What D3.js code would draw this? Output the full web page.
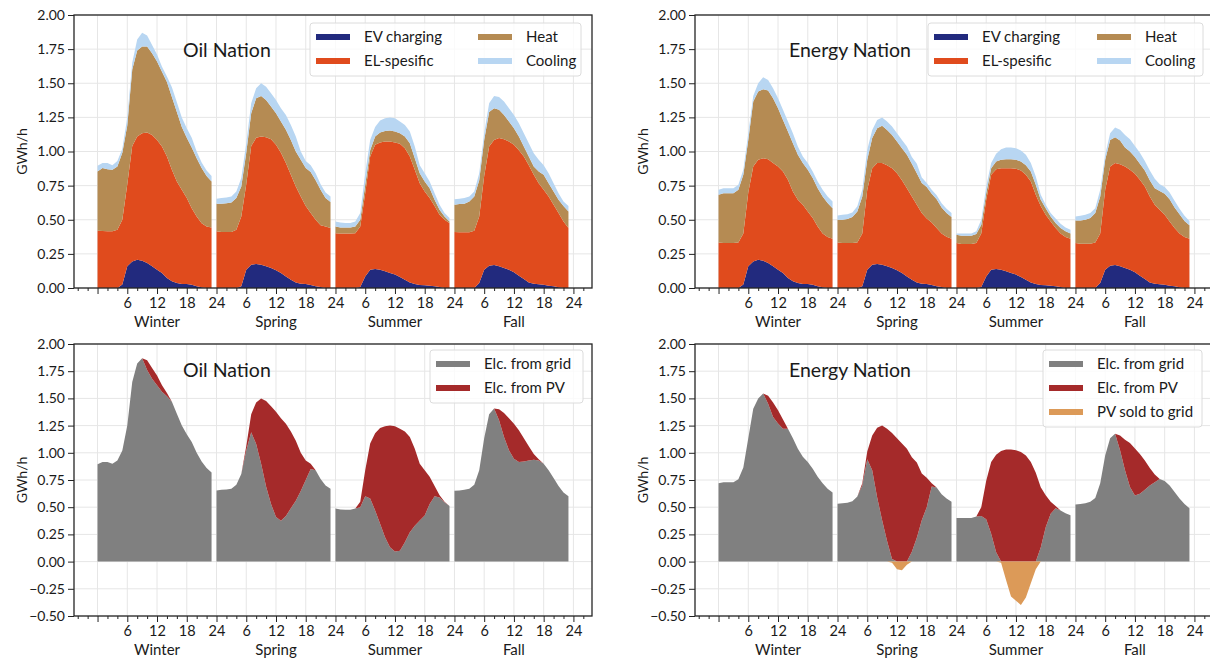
<!DOCTYPE html>
<html><head><meta charset="utf-8">
<script src="https://cdn.jsdelivr.net/npm/d3@7"></script>
<style>
body{margin:0;background:#fff}
svg{display:block}
text{font-family:Lato,'Open Sans','DejaVu Sans',sans-serif;fill:#1a1a1a}
</style>
</head><body>
<svg id="c" width="1210" height="660"></svg>
<script>
// ---------------- data (hourly, 4 seasons x 24 h) ----------------
const seasons = ["Winter", "Spring", "Summer", "Fall"];
const hourLabels = ["6", "12", "18", "24"];
const yTicksTop = [0, 0.25, 0.5, 0.75, 1, 1.25, 1.5, 1.75, 2];
const yTicksBottom = [-0.5, -0.25, 0, 0.25, 0.5, 0.75, 1, 1.25, 1.5, 1.75, 2];

const evCharging = [
  0,0,0,0,0,0.025,0.16,0.195,0.207,0.20,0.183,0.16,0.134,0.11,0.073,0.05,0.037,0.03,0.029,0.024,0.012,0.005,0,0,
  0,0,0,0,0,0.012,0.134,0.17,0.176,0.17,0.159,0.146,0.13,0.11,0.085,0.06,0.04,0.032,0.03,0.022,0.012,0.007,0,0,
  0,0,0,0,0,0.007,0.085,0.134,0.139,0.134,0.122,0.11,0.098,0.08,0.06,0.04,0.03,0.022,0.02,0.017,0.012,0.007,0,0,
  0,0,0,0,0,0.037,0.134,0.163,0.168,0.159,0.146,0.134,0.115,0.09,0.066,0.04,0.032,0.027,0.024,0.017,0.012,0.005,0,0
];

// Oil Nation
const oilElSpecific = [
  0.42,0.418,0.415,0.415,0.427,0.475,0.60,0.845,0.903,0.934,0.957,0.96,0.951,0.927,0.89,0.816,0.743,0.69,0.631,0.561,0.512,0.47,0.45,0.444,
  0.415,0.41,0.41,0.41,0.427,0.512,0.626,0.87,0.924,0.94,0.946,0.944,0.92,0.88,0.83,0.77,0.704,0.638,0.57,0.528,0.488,0.453,0.45,0.44,
  0.402,0.40,0.40,0.40,0.402,0.443,0.61,0.829,0.911,0.932,0.951,0.963,0.968,0.976,0.964,0.923,0.836,0.746,0.687,0.643,0.588,0.53,0.50,0.476,
  0.41,0.408,0.408,0.408,0.42,0.487,0.686,0.874,0.917,0.939,0.944,0.939,0.935,0.92,0.897,0.86,0.798,0.741,0.696,0.653,0.598,0.545,0.488,0.44
];
const oilHeat = [
  0.434,0.462,0.455,0.451,0.463,0.49,0.43,0.56,0.63,0.636,0.63,0.60,0.575,0.548,0.547,0.534,0.51,0.46,0.44,0.445,0.426,0.405,0.37,0.336,
  0.202,0.207,0.21,0.217,0.233,0.22,0.23,0.24,0.29,0.297,0.273,0.24,0.23,0.23,0.245,0.255,0.256,0.27,0.28,0.30,0.29,0.26,0.21,0.19,
  0.048,0.044,0.044,0.044,0.048,0.05,0.061,0.047,0.06,0.074,0.077,0.08,0.08,0.078,0.086,0.097,0.084,0.072,0.073,0.07,0.046,0.036,0.024,0.012,
  0.20,0.207,0.209,0.226,0.25,0.266,0.265,0.253,0.232,0.207,0.178,0.147,0.12,0.10,0.074,0.063,0.06,0.086,0.11,0.098,0.097,0.096,0.112,0.12
];
const oilCooling = [
  0.041,0.035,0.045,0.034,0.04,0.03,0.06,0.05,0.08,0.10,0.08,0.06,0.05,0.035,0.04,0.07,0.07,0.07,0.07,0.07,0.05,0.04,0.04,0.04,
  0.037,0.043,0.043,0.043,0.047,0.061,0.07,0.074,0.073,0.093,0.097,0.097,0.098,0.097,0.108,0.11,0.11,0.06,0.05,0.05,0.05,0.04,0.04,0.04,
  0.038,0.036,0.032,0.032,0.038,0.05,0.084,0.075,0.07,0.087,0.094,0.097,0.098,0.086,0.085,0.086,0.087,0.06,0.06,0.05,0.049,0.037,0.026,0.024,
  0.041,0.039,0.043,0.036,0.037,0.05,0.049,0.064,0.09,0.095,0.098,0.097,0.098,0.097,0.097,0.097,0.098,0.086,0.07,0.072,0.061,0.049,0.034,0.04
];
const oilGrid = [
  0.895,0.915,0.915,0.90,0.93,1.02,1.25,1.65,1.82,1.87,1.76,1.68,1.62,1.56,1.52,1.47,1.36,1.25,1.17,1.10,1.00,0.92,0.86,0.82,
  0.654,0.66,0.663,0.67,0.707,0.805,1.02,1.19,1.08,0.90,0.69,0.53,0.41,0.375,0.42,0.49,0.56,0.65,0.75,0.85,0.84,0.76,0.70,0.67,
  0.488,0.48,0.476,0.476,0.488,0.50,0.60,0.58,0.47,0.347,0.224,0.132,0.092,0.10,0.178,0.27,0.33,0.377,0.423,0.53,0.60,0.59,0.546,0.512,
  0.651,0.654,0.66,0.67,0.707,0.84,1.134,1.354,1.407,1.30,1.146,1.023,0.946,0.915,0.92,0.93,0.937,0.93,0.90,0.84,0.768,0.695,0.634,0.60
];
const oilPV = [
  0,0,0,0,0,0,0,0,0,0,0.09,0.10,0.09,0.06,0.03,0,0,0,0,0,0,0,0,0,
  0,0,0,0,0,0,0.04,0.164,0.383,0.60,0.785,0.897,0.968,0.942,0.848,0.705,0.55,0.35,0.18,0.05,0,0,0,0,
  0,0,0,0,0,0.05,0.24,0.505,0.71,0.88,1.02,1.118,1.152,1.12,1.017,0.876,0.707,0.523,0.417,0.25,0.095,0.02,0.004,0,
  0,0,0,0,0,0,0,0,0,0.10,0.22,0.294,0.322,0.292,0.214,0.13,0.051,0.01,0,0,0,0,0,0
];

// Energy Nation
const enElSpecific = [
  0.334,0.33,0.33,0.33,0.334,0.375,0.54,0.695,0.733,0.75,0.761,0.755,0.756,0.744,0.72,0.657,0.609,0.58,0.531,0.488,0.438,0.395,0.373,0.36,
  0.334,0.33,0.33,0.33,0.334,0.388,0.586,0.708,0.739,0.745,0.741,0.732,0.71,0.68,0.645,0.61,0.57,0.518,0.48,0.458,0.428,0.393,0.375,0.36,
  0.33,0.322,0.322,0.322,0.33,0.393,0.561,0.696,0.731,0.744,0.756,0.768,0.775,0.781,0.77,0.74,0.653,0.578,0.517,0.471,0.428,0.393,0.373,0.36,
  0.33,0.324,0.324,0.324,0.334,0.363,0.586,0.727,0.747,0.748,0.744,0.732,0.722,0.703,0.678,0.63,0.578,0.546,0.513,0.471,0.428,0.395,0.373,0.36
];
const enHeat = [
  0.349,0.365,0.365,0.365,0.386,0.43,0.385,0.476,0.50,0.506,0.502,0.475,0.427,0.376,0.353,0.353,0.33,0.305,0.306,0.293,0.28,0.27,0.249,0.225,
  0.166,0.17,0.175,0.19,0.226,0.27,0.22,0.22,0.255,0.273,0.258,0.242,0.233,0.234,0.246,0.24,0.23,0.22,0.23,0.21,0.21,0.19,0.175,0.16,
  0.06,0.061,0.061,0.061,0.065,0.063,0.049,0.048,0.057,0.062,0.066,0.066,0.067,0.066,0.07,0.074,0.073,0.046,0.048,0.036,0.036,0.04,0.042,0.04,
  0.165,0.171,0.176,0.188,0.216,0.27,0.22,0.195,0.19,0.173,0.14,0.134,0.123,0.117,0.116,0.12,0.12,0.137,0.153,0.162,0.15,0.14,0.117,0.10
];
const enCooling = [
  0.037,0.035,0.035,0.035,0.036,0.036,0.049,0.04,0.06,0.088,0.078,0.073,0.073,0.075,0.074,0.074,0.061,0.048,0.049,0.049,0.05,0.05,0.048,0.049,
  0.032,0.037,0.036,0.034,0.038,0.05,0.072,0.06,0.06,0.062,0.062,0.063,0.061,0.061,0.061,0.05,0.07,0.04,0.03,0.03,0.03,0.03,0.03,0.03,
  0.01,0.017,0.017,0.017,0.02,0.037,0.049,0.037,0.056,0.077,0.086,0.086,0.084,0.08,0.076,0.061,0.061,0.037,0.025,0.026,0.034,0.03,0.029,0.027,
  0.029,0.035,0.037,0.038,0.035,0.05,0.036,0.049,0.071,0.08,0.09,0.09,0.08,0.08,0.07,0.07,0.07,0.05,0.05,0.05,0.05,0.04,0.04,0.03
];
const enGrid = [
  0.72,0.73,0.73,0.73,0.756,0.866,1.134,1.406,1.50,1.544,1.45,1.33,1.27,1.22,1.22,1.134,1.037,0.963,0.915,0.854,0.78,0.72,0.67,0.634,
  0.532,0.537,0.541,0.554,0.598,0.70,0.94,0.84,0.59,0.38,0.19,0.025,0,0,0,0.09,0.22,0.38,0.50,0.69,0.68,0.62,0.58,0.55,
  0.40,0.40,0.40,0.40,0.415,0.42,0.39,0.255,0.086,0,0,0,0,0,0,0,0,0.13,0.316,0.44,0.49,0.47,0.444,0.427,
  0.524,0.53,0.537,0.55,0.585,0.72,0.976,1.134,1.176,1.023,0.84,0.685,0.608,0.624,0.66,0.70,0.73,0.76,0.74,0.70,0.64,0.58,0.53,0.49
];
const enPV = [
  0,0,0,0,0,0,0,0,0,0,0.074,0.133,0.12,0.085,0,0,0,0,0,0,0,0,0,0,
  0,0,0,0,0,0.02,0.072,0.318,0.64,0.87,1.03,1.158,1.134,1.085,1.037,0.87,0.69,0.43,0.27,0.03,0,0,0,0,
  0,0,0,0,0,0.08,0.354,0.66,0.897,1.017,1.03,1.03,1.024,1.007,0.976,0.915,0.817,0.553,0.294,0.11,0.02,0,0,0,
  0,0,0,0,0,0,0,0,0,0.137,0.28,0.405,0.432,0.366,0.27,0.16,0.07,0,0,0,0,0,0,0
];
const enSold = [
  0,0,0,0,0,0,0,0,0,0,0,0,0,0,0,0,0,0,0,0,0,0,0,0,
  0,0,0,0,0,0,0,0,0,0,0,-0.01,-0.07,-0.08,-0.03,0,0,0,0,0,0,0,0,0,
  0,0,0,0,0,0,0,0,0,-0.01,-0.17,-0.32,-0.36,-0.40,-0.33,-0.20,-0.07,0,0,0,0,0,0,0,
  0,0,0,0,0,0,0,0,0,0,0,0,0,0,0,0,0,0,0,0,0,0,0,0
];

const demandKeys = ["EV charging", "EL-spesific", "Heat", "Cooling"];
const supplyKeys = ["Elc. from grid", "Elc. from PV", "PV sold to grid"];
const colors = {
  "EV charging": "#222a7e", "EL-spesific": "#e04b1d", "Heat": "#b58b53", "Cooling": "#b8d6f2",
  "Elc. from grid": "#808080", "Elc. from PV": "#a52a2a", "PV sold to grid": "#dc9a58"
};

// ---------------- drawing ----------------
const svg = d3.select("#c");
const W = 518;

function frame(p) {
  const x = d3.scaleLinear().domain([-4.75, 99.75]).range([p.left, p.left + W]);
  const y = d3.scaleLinear().domain(p.yDomain).range([p.top + p.height, p.top]);
  const g = svg.append("g");
  g.append("g").selectAll("line").data(p.yTicks).join("line")
    .attr("x1", p.left).attr("x2", p.left + W).attr("y1", d => y(d)).attr("y2", d => y(d))
    .attr("stroke", "#e6e6e6").attr("stroke-width", 1);
  g.append("g").selectAll("line").data(d3.range(0, 97, 6)).join("line")
    .attr("x1", d => x(d)).attr("x2", d => x(d)).attr("y1", p.top).attr("y2", p.top + p.height)
    .attr("stroke", "#e6e6e6").attr("stroke-width", 1);
  return {x, y, g};
}

function axes(p, x, y) {
  const g = svg.append("g");
  const bottom = p.top + p.height;
  const ya = g.append("g").attr("transform", `translate(${p.left},0)`)
    .call(d3.axisLeft(y).tickValues(p.yTicks).tickFormat(d3.format(".2f")).tickSize(6).tickPadding(3));
  ya.select(".domain").remove();
  ya.selectAll("text").attr("font-size", 14).attr("font-family", "Lato,'Open Sans',sans-serif").attr("fill", "#1a1a1a");
  ya.selectAll("line").attr("stroke", "#222");
  const minor = d3.range(-4, 100, 2).filter(h => h % 6 !== 0);
  const xm = g.append("g").attr("transform", `translate(0,${bottom})`)
    .call(d3.axisBottom(x).tickValues(minor).tickFormat("").tickSize(3));
  xm.select(".domain").remove();
  xm.selectAll("line").attr("stroke", "#222");
  const xa = g.append("g").attr("transform", `translate(0,${bottom})`)
    .call(d3.axisBottom(x).tickValues(d3.range(0, 97, 6))
      .tickFormat(h => h === 0 ? "" : hourLabels[(h / 6 - 1) % 4]).tickSize(6).tickPadding(4));
  xa.select(".domain").remove();
  xa.selectAll("line").attr("stroke", "#222");
  xa.selectAll("text").attr("font-size", 14.5).attr("font-family", "Lato,'Open Sans',sans-serif").attr("fill", "#1a1a1a");
  g.selectAll(".season").data(seasons).join("text")
    .attr("x", (d, i) => x(12 + 24 * i)).attr("y", bottom + 34)
    .attr("dy", "0.35em").attr("text-anchor", "middle").attr("font-size", 15).text(d => d);
  g.append("text").attr("transform", `translate(${p.left - 52},${p.top + p.height / 2}) rotate(-90)`)
    .attr("text-anchor", "middle").attr("dy", "0.35em").attr("font-size", 14).text("GWh/h");
  g.append("rect").attr("x", p.left).attr("y", p.top).attr("width", W).attr("height", p.height)
    .attr("fill", "none").attr("stroke", "#262626").attr("stroke-width", 1.3);
  g.append("text").attr("x", p.titleX).attr("y", p.top + (p.top < 100 ? 35 : 26))
    .attr("dy", "0.35em").attr("font-size", 19.5).text(p.title);
}

function legend(L, keys) {
  const g = svg.append("g");
  g.append("rect").attr("x", L.x).attr("y", L.y).attr("width", L.w).attr("height", L.h)
    .attr("rx", 3).attr("fill", "#fff").attr("fill-opacity", 0.8).attr("stroke", "#dcdcdc");
  const colW = L.colW || 0;
  keys.forEach((k, i) => {
    const c = L.cols === 2 ? Math.floor(i / 2) : 0;
    const r = L.cols === 2 ? i % 2 : i;
    const px = L.x + 6 + c * colW;
    const py = L.y + 14 + r * 24;
    g.append("rect").attr("x", px).attr("y", py - 3).attr("width", 34).attr("height", 6).attr("fill", colors[k]);
    g.append("text").attr("x", px + 48).attr("y", py).attr("dy", "0.35em").attr("font-size", 15).text(k);
  });
}

function topPanel(p, el, heat, cool) {
  const {x, y, g} = frame(p);
  const rows = d3.range(96).map(i => ({
    i, "EV charging": evCharging[i], "EL-spesific": el[i], "Heat": heat[i], "Cooling": cool[i]
  }));
  const stacked = d3.stack().keys(demandKeys)(rows);
  const area = d3.area().x(d => x(d.data.i)).y0(d => y(d[0])).y1(d => y(d[1]));
  stacked.forEach(layer => {
    seasons.forEach((s, si) => {
      g.append("path").datum(layer.slice(si * 24, si * 24 + 24))
        .attr("d", area).attr("fill", colors[layer.key]);
    });
  });
  axes(p, x, y);
}

function bottomPanel(p, grid, pv, sold) {
  const {x, y, g} = frame(p);
  seasons.forEach((s, si) => {
    const idx = d3.range(si * 24, si * 24 + 24);
    const aGrid = d3.area().x(i => x(i)).y0(y(0)).y1(i => y(grid[i]));
    const aPV = d3.area().x(i => x(i)).y0(i => y(grid[i])).y1(i => y(grid[i] + pv[i]));
    g.append("path").datum(idx).attr("d", aGrid).attr("fill", colors["Elc. from grid"]);
    g.append("path").datum(idx).attr("d", aPV).attr("fill", colors["Elc. from PV"]);
    if (sold) {
      const aSold = d3.area().x(i => x(i)).y0(y(0)).y1(i => y(sold[i]));
      g.append("path").datum(idx).attr("d", aSold).attr("fill", colors["PV sold to grid"]);
    }
  });
  axes(p, x, y);
}

topPanel({left: 74, top: 15, height: 273, yDomain: [0, 2], yTicks: yTicksTop, title: "Oil Nation", titleX: 183},
  oilElSpecific, oilHeat, oilCooling);
topPanel({left: 695, top: 15, height: 273, yDomain: [0, 2], yTicks: yTicksTop, title: "Energy Nation", titleX: 789},
  enElSpecific, enHeat, enCooling);
bottomPanel({left: 74, top: 344, height: 272, yDomain: [-0.5, 2], yTicks: yTicksBottom, title: "Oil Nation", titleX: 183},
  oilGrid, oilPV, null);
bottomPanel({left: 695, top: 344, height: 272, yDomain: [-0.5, 2], yTicks: yTicksBottom, title: "Energy Nation", titleX: 789},
  enGrid, enPV, enSold);

legend({x: 310, y: 23, w: 271, h: 53, cols: 2, colW: 162}, demandKeys);
legend({x: 928, y: 23, w: 275, h: 53, cols: 2, colW: 163}, demandKeys);
legend({x: 430, y: 350, w: 153, h: 53, cols: 1}, supplyKeys.slice(0, 2));
legend({x: 1043, y: 350, w: 159, h: 77, cols: 1}, supplyKeys);
</script>
</body></html>
